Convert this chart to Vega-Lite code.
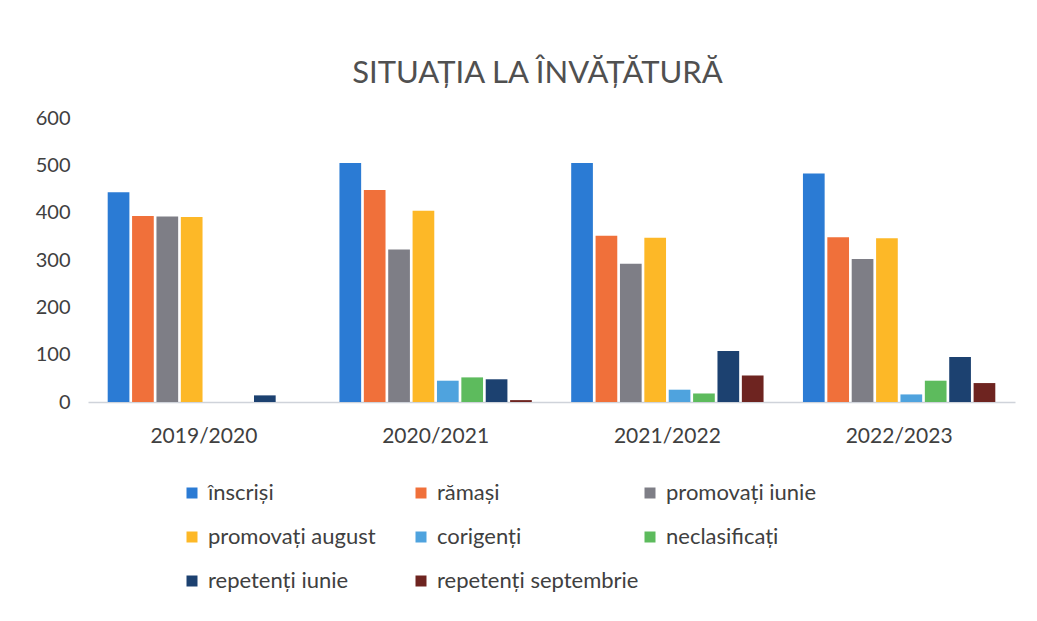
{
  "$schema": "https://vega.github.io/schema/vega-lite/v6.json",
  "width": 927,
  "height": 284,
  "autosize": "none",
  "padding": {"left": 88, "top": 118, "right": 22, "bottom": 219},
  "background": "white",
  "title": {
    "text": "SITUAȚIA LA ÎNVĂȚĂTURĂ",
    "font": "Lato",
    "fontSize": 31,
    "fontWeight": "normal",
    "color": "#505050",
    "anchor": "middle",
    "dx": -14,
    "offset": 18
  },
  "data": {
    "values": [
      {"an": "2019/2020", "cat": "înscriși", "v": 443},
      {"an": "2019/2020", "cat": "rămași", "v": 393},
      {"an": "2019/2020", "cat": "promovați iunie", "v": 392},
      {"an": "2019/2020", "cat": "promovați august", "v": 391},
      {"an": "2019/2020", "cat": "corigenți", "v": 0},
      {"an": "2019/2020", "cat": "neclasificați", "v": 0},
      {"an": "2019/2020", "cat": "repetenți iunie", "v": 14},
      {"an": "2019/2020", "cat": "repetenți septembrie", "v": 0},
      {"an": "2020/2021", "cat": "înscriși", "v": 505},
      {"an": "2020/2021", "cat": "rămași", "v": 448},
      {"an": "2020/2021", "cat": "promovați iunie", "v": 322},
      {"an": "2020/2021", "cat": "promovați august", "v": 404},
      {"an": "2020/2021", "cat": "corigenți", "v": 45},
      {"an": "2020/2021", "cat": "neclasificați", "v": 52},
      {"an": "2020/2021", "cat": "repetenți iunie", "v": 48},
      {"an": "2020/2021", "cat": "repetenți septembrie", "v": 4},
      {"an": "2021/2022", "cat": "înscriși", "v": 505},
      {"an": "2021/2022", "cat": "rămași", "v": 351},
      {"an": "2021/2022", "cat": "promovați iunie", "v": 292},
      {"an": "2021/2022", "cat": "promovați august", "v": 347},
      {"an": "2021/2022", "cat": "corigenți", "v": 26},
      {"an": "2021/2022", "cat": "neclasificați", "v": 18},
      {"an": "2021/2022", "cat": "repetenți iunie", "v": 108},
      {"an": "2021/2022", "cat": "repetenți septembrie", "v": 56},
      {"an": "2022/2023", "cat": "înscriși", "v": 483},
      {"an": "2022/2023", "cat": "rămași", "v": 348},
      {"an": "2022/2023", "cat": "promovați iunie", "v": 302},
      {"an": "2022/2023", "cat": "promovați august", "v": 346},
      {"an": "2022/2023", "cat": "corigenți", "v": 16},
      {"an": "2022/2023", "cat": "neclasificați", "v": 45},
      {"an": "2022/2023", "cat": "repetenți iunie", "v": 95},
      {"an": "2022/2023", "cat": "repetenți septembrie", "v": 40}
    ]
  },
  "mark": {"type": "bar"},
  "encoding": {
    "x": {
      "field": "an",
      "type": "nominal",
      "scale": {"paddingInner": 0.17, "paddingOuter": 0.085},
      "axis": {
        "title": null,
        "labelAngle": 0,
        "labelFont": "Lato",
        "labelFontSize": 21,
        "labelColor": "#404040",
        "labelPadding": 23,
        "ticks": false,
        "domainColor": "#cfd3da",
        "domainWidth": 1.5
      }
    },
    "xOffset": {
      "field": "cat",
      "type": "nominal",
      "sort": ["înscriși", "rămași", "promovați iunie", "promovați august", "corigenți", "neclasificați", "repetenți iunie", "repetenți septembrie"],
      "scale": {"paddingInner": 0.11}
    },
    "y": {
      "field": "v",
      "type": "quantitative",
      "scale": {"domain": [0, 600]},
      "axis": {
        "title": null,
        "values": [0, 100, 200, 300, 400, 500, 600],
        "grid": false,
        "domain": false,
        "ticks": false,
        "labelFont": "Lato",
        "labelFontSize": 20,
        "labelColor": "#404040",
        "labelPadding": 18
      }
    },
    "color": {
      "field": "cat",
      "type": "nominal",
      "scale": {
        "domain": ["înscriși", "rămași", "promovați iunie", "promovați august", "corigenți", "neclasificați", "repetenți iunie", "repetenți septembrie"],
        "range": ["#2B7BD4", "#F0703A", "#7E7E86", "#FDB827", "#4FA3DE", "#5DBB5D", "#1C4170", "#6E2420"]
      },
      "legend": {
        "title": null,
        "orient": "none",
        "legendX": 93,
        "legendY": 364,
        "direction": "horizontal",
        "columns": 3,
        "gridAlign": "all",
        "columnPadding": -16,
        "rowPadding": 22,
        "symbolType": "square",
        "symbolSize": 121,
        "symbolStrokeWidth": 0,
        "labelFont": "Lato",
        "labelFontSize": 22,
        "labelColor": "#404040",
        "labelOffset": 5,
        "labelLimit": 300
      }
    }
  },
  "config": {"view": {"stroke": null}}
}
